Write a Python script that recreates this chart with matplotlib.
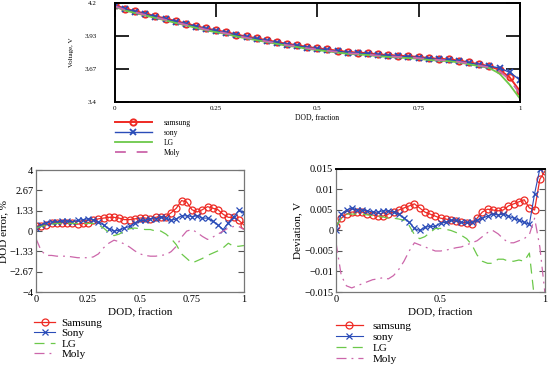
import numpy as np
import matplotlib
matplotlib.use("Agg")
import matplotlib.pyplot as plt

plt.rcParams["font.family"] = ["Liberation Serif", "DejaVu Serif"]
plt.rcParams["axes.unicode_minus"] = True

# shared DOD grid (step 0.025)
dod = np.linspace(0, 1, 41)

# top panel: voltage, V
v_samsung = [4.185, 4.155, 4.135, 4.115, 4.095, 4.075, 4.055, 4.035, 4.015, 3.995,
             3.98, 3.965, 3.945, 3.93, 3.915, 3.9, 3.885, 3.87, 3.86, 3.845,
             3.835, 3.825, 3.815, 3.805, 3.80, 3.795, 3.785, 3.78, 3.775, 3.77,
             3.765, 3.755, 3.75, 3.745, 3.735, 3.72, 3.705, 3.69, 3.66, 3.60, 3.49]
v_sony = [4.18, 4.15, 4.13, 4.11, 4.09, 4.07, 4.05, 4.03, 4.01, 3.99,
          3.975, 3.96, 3.94, 3.925, 3.91, 3.895, 3.88, 3.865, 3.855, 3.84,
          3.83, 3.82, 3.81, 3.80, 3.795, 3.79, 3.78, 3.775, 3.77, 3.765,
          3.76, 3.75, 3.745, 3.74, 3.73, 3.715, 3.70, 3.69, 3.675, 3.64, 3.58]
v_lg = [4.17, 4.14, 4.12, 4.10, 4.08, 4.06, 4.04, 4.02, 4.00, 3.98,
        3.965, 3.95, 3.93, 3.915, 3.90, 3.885, 3.87, 3.855, 3.845, 3.83,
        3.82, 3.81, 3.80, 3.79, 3.785, 3.78, 3.77, 3.765, 3.76, 3.755,
        3.75, 3.74, 3.735, 3.73, 3.72, 3.705, 3.69, 3.675, 3.63, 3.54, 3.43]
v_moly = [4.175, 4.145, 4.125, 4.105, 4.085, 4.065, 4.045, 4.025, 4.005, 3.985,
          3.97, 3.955, 3.935, 3.92, 3.905, 3.89, 3.875, 3.86, 3.85, 3.835,
          3.825, 3.815, 3.805, 3.795, 3.79, 3.785, 3.775, 3.77, 3.765, 3.76,
          3.755, 3.745, 3.74, 3.735, 3.725, 3.71, 3.695, 3.68, 3.65, 3.58, 3.47]

# bottom-left: DOD error, %
e_samsung = [0.3, 0.35, 0.4, 0.5, 0.55, 0.55, 0.5, 0.5, 0.45, 0.5,
             0.55, 0.7, 0.8, 0.85, 0.9, 0.9, 0.85, 0.75, 0.75, 0.8,
             0.85, 0.85, 0.8, 0.9, 0.95, 0.95, 1.2, 1.5, 2.0, 1.9,
             1.4, 1.25, 1.4, 1.6, 1.5, 1.4, 1.1, 0.9, 0.9, 0.7, 0.4]
e_sony = [0.2, 0.4, 0.55, 0.6, 0.6, 0.65, 0.65, 0.6, 0.7, 0.75,
          0.8, 0.75, 0.6, 0.4, 0.15, 0.0, 0.05, 0.2, 0.3, 0.55,
          0.7, 0.7, 0.8, 0.8, 0.9, 0.85, 0.7, 0.8, 1.0, 1.0,
          0.95, 1.0, 0.85, 0.85, 0.65, 0.4, 0.1, 0.55, 0.9, 1.35, 1.2]
e_lg = [0.2, 0.3, 0.4, 0.45, 0.5, 0.5, 0.5, 0.5, 0.5, 0.5,
        0.5, 0.5, 0.4, 0.2, -0.1, -0.3, -0.2, 0.0, 0.15, 0.2,
        0.15, 0.1, 0.1, 0.0, 0.0, -0.2, -0.5, -0.9, -1.5, -1.8,
        -2.1, -1.95, -1.8, -1.6, -1.45, -1.3, -1.1, -0.8, -1.0, -1.0, -0.95]
e_moly = [-0.5, -1.3, -1.6, -1.6, -1.65, -1.65, -1.65, -1.7, -1.75, -1.75,
          -1.75, -1.7, -1.5, -1.1, -0.8, -0.6, -0.7, -0.85, -1.05, -1.3,
          -1.5, -1.6, -1.65, -1.65, -1.6, -1.55, -1.35, -1.0, -0.4, 0.0,
          0.1, -0.1, -0.35, -0.55, -0.4, -0.2, 0.0, 0.2, 0.3, 0.3, 0.1]

# bottom-right: deviation, V
d_samsung = [0.001, 0.003, 0.004, 0.0045, 0.0045, 0.0045, 0.004, 0.0038, 0.0035, 0.0035,
             0.004, 0.0045, 0.005, 0.0055, 0.006, 0.0065, 0.0055, 0.0045, 0.004, 0.0035,
             0.003, 0.0028, 0.0025, 0.0022, 0.002, 0.0018, 0.0015, 0.003, 0.0045, 0.0052,
             0.005, 0.0048, 0.005, 0.006, 0.0065, 0.007, 0.0075, 0.0055, 0.005, 0.0125, 0.0145]
d_sony = [0.0, 0.004, 0.005, 0.0055, 0.005, 0.005, 0.0048, 0.0045, 0.0045, 0.0048,
          0.0048, 0.0045, 0.004, 0.003, 0.002, 0.0005, 0.0, 0.0008, 0.001, 0.001,
          0.0018, 0.002, 0.0025, 0.0025, 0.002, 0.002, 0.002, 0.0025, 0.003, 0.0035,
          0.004, 0.0038, 0.004, 0.0035, 0.003, 0.0025, 0.002, 0.0015, 0.009, 0.015, np.nan]
d_lg = [0.001, 0.003, 0.004, 0.004, 0.004, 0.004, 0.0038, 0.0036, 0.0035, 0.0033,
        0.003, 0.003, 0.0028, 0.0025, 0.0012, -0.001, -0.002, -0.0015, -0.0005, 0.0005,
        0.0005, 0.0003, 0.0, -0.0005, -0.0012, -0.002, -0.0035, -0.006, -0.0075, -0.008,
        -0.008, -0.007, -0.007, -0.0075, -0.0075, -0.0072, -0.0075, -0.0055, -0.017, np.nan, np.nan]
d_moly = [-0.003, -0.011, -0.0135, -0.014, -0.0135, -0.013, -0.0125, -0.012, -0.0118, -0.0115,
          -0.0118, -0.011, -0.0095, -0.0075, -0.005, -0.003, -0.0035, -0.004, -0.0045, -0.005,
          -0.005, -0.0048, -0.0045, -0.0042, -0.004, -0.0035, -0.003, -0.0025, -0.0015, -0.0005,
          0.0, -0.0008, -0.002, -0.003, -0.003, -0.0025, -0.002, -0.001, 0.003, -0.004, -0.0155]

RED = "#ee2a24"
BLUE = "#2a4cb8"
GREEN = "#6cc84a"
PINK = "#cc66aa"

fig = plt.figure(figsize=(5.5, 3.65), dpi=100)

# ---- top panel
ax = fig.add_axes([0.209, 0.7205, 0.736, 0.271])
ax.plot(dod, v_samsung, color=RED, lw=1.4, marker="o", ms=4.5, mfc="none", mew=1.4, label="samsung")
ax.plot(dod, v_sony, color=BLUE, lw=1.0, marker="x", ms=4.5, mew=1.3, label="sony")
ax.plot(dod, v_lg, color=GREEN, lw=1.3, label="LG")
ax.plot(dod, v_moly, color=PINK, lw=1.3, ls=(0, (6, 6)), label="Moly")
ax.set_xlim(0, 1)
ax.set_ylim(3.4, 4.2)
ax.set_xticks([0, 0.25, 0.5, 0.75, 1])
ax.set_xticklabels(["0", "0.25", "0.5", "0.75", "1"])
ax.set_yticks([3.4, 3.67, 3.93, 4.2])
ax.set_yticklabels(["3.4", "3.67", "3.93", "4.2"])
ax.tick_params(labelsize=5, direction="in", length=10, width=1.2, pad=3,
               left=True, right=True, top=True, bottom=False)
ax.tick_params(axis="y", pad=13)
for s in ax.spines.values():
    s.set_linewidth(1.4)
ax.set_xlabel("DOD, fraction", fontsize=5.5, labelpad=2)
ax.set_ylabel("Voltage, V", fontsize=5, labelpad=8)
ax.legend(loc="upper left", bbox_to_anchor=(0.0, -0.17), frameon=False, fontsize=5.5,
          handlelength=4.8, handletextpad=1.6, labelspacing=0.25, borderpad=0, borderaxespad=0)

# ---- bottom-left panel
ax = fig.add_axes([0.0655, 0.2, 0.378, 0.334])
ax.plot(dod, e_samsung, color=RED, lw=0.9, marker="o", ms=5, mfc="none", mew=0.9, label="Samsung")
ax.plot(dod, e_sony, color=BLUE, lw=0.8, marker="x", ms=5, mew=0.9, label="Sony")
ax.plot(dod, e_lg, color=GREEN, lw=0.9, ls=(0, (8, 5)), label="LG")
ax.plot(dod, e_moly, color=PINK, lw=0.9, ls=(0, (8, 4, 1.5, 4)), label="Moly")
ax.set_xlim(0, 1)
ax.set_ylim(-4, 4)
ax.set_xticks([0, 0.25, 0.5, 0.75, 1])
ax.set_xticklabels(["0", "0.25", "0.5", "0.75", "1"])
ax.set_yticks([-4, -2.67, -1.33, 0, 1.33, 2.67, 4])
ax.set_yticklabels(["\u22124", "\u22122.67", "\u22121.33", "0", "1.33", "2.67", "4"])
ax.tick_params(labelsize=7.5, direction="in", length=4, width=0.8, color="#555555", pad=2,
               left=True, right=True, top=False, bottom=False)
for s in ax.spines.values():
    s.set_color("#777777")
    s.set_linewidth(0.9)
ax.set_xlabel("DOD, fraction", fontsize=8, labelpad=3)
ax.set_ylabel("DOD error, %", fontsize=8, labelpad=1)
ax.legend(loc="upper left", bbox_to_anchor=(-0.01, -0.215), frameon=False, fontsize=8,
          handlelength=1.9, handletextpad=0.6, labelspacing=0.05, borderpad=0, borderaxespad=0)

# ---- bottom-right panel
ax = fig.add_axes([0.611, 0.2, 0.38, 0.337])
ax.plot(dod, d_samsung, color=RED, lw=0.9, marker="o", ms=5, mfc="none", mew=0.9, label="samsung")
ax.plot(dod, d_sony, color=BLUE, lw=0.8, marker="x", ms=5, mew=0.9, label="sony")
ax.plot(dod, d_lg, color=GREEN, lw=0.9, ls=(0, (8, 5)), label="LG")
ax.plot(dod, d_moly, color=PINK, lw=0.9, ls=(0, (8, 4, 1.5, 4)), label="Moly")
ax.set_xlim(0, 1)
ax.set_ylim(-0.015, 0.015)
ax.set_xticks([0, 0.5, 1])
ax.set_xticklabels(["0", "0.5", "1"])
ax.set_yticks([-0.015, -0.01, -0.005, 0, 0.005, 0.01, 0.015])
ax.set_yticklabels(["\u22120.015", "\u22120.01", "\u22120.005", "0", "0.005", "0.01", "0.015"])
ax.tick_params(labelsize=7.5, direction="in", length=4, width=0.8, color="#555555", pad=2,
               left=True, right=True, top=False, bottom=False)
for s in ax.spines.values():
    s.set_color("#777777")
    s.set_linewidth(0.9)
ax.spines["top"].set_color("black")
ax.spines["top"].set_linewidth(1.4)
ax.set_xlabel("DOD, fraction", fontsize=8, labelpad=3)
ax.set_ylabel("Deviation, V", fontsize=8, labelpad=1)
ax.legend(loc="upper left", bbox_to_anchor=(0.0, -0.235), frameon=False, fontsize=8,
          handlelength=2.4, handletextpad=0.9, labelspacing=0.12, borderpad=0, borderaxespad=0)

fig.savefig("out.png", dpi=100)
